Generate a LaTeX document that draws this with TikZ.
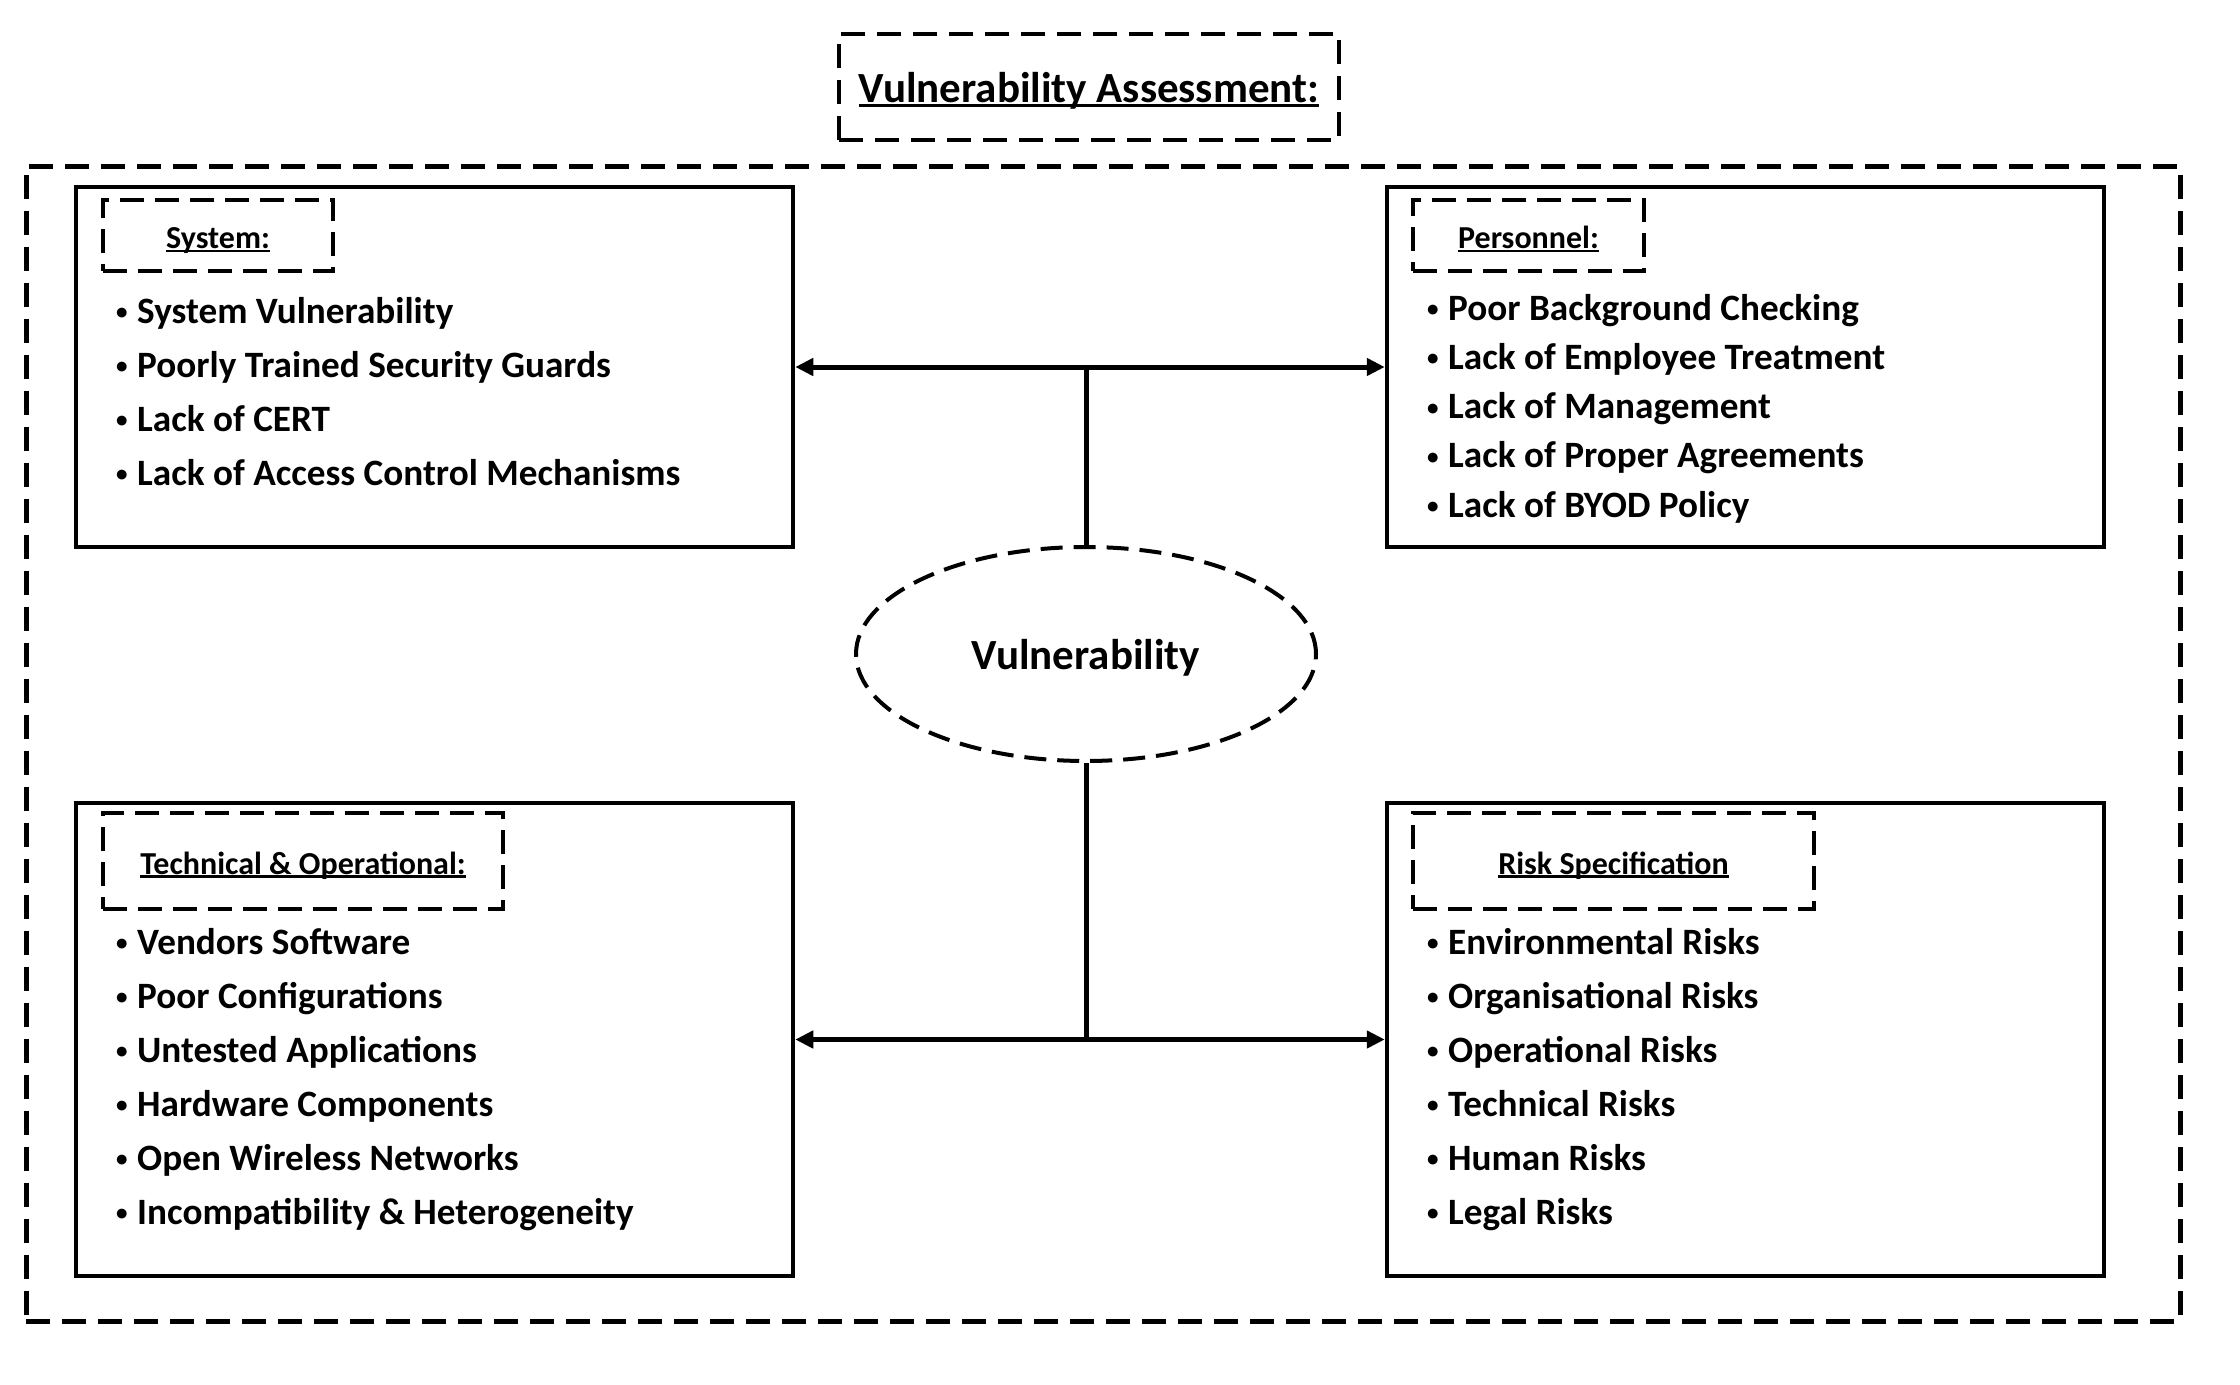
\documentclass[tikz,border=0pt]{standalone}
\usepackage{fontspec}
\setmainfont{Carlito}
\usetikzlibrary{arrows.meta,shapes.geometric}
\newcommand\myul[1]{\sbox0{#1}\rlap{\rule[-0.11em]{\wd0}{0.075em}}\usebox0}
\newcommand\bl{\makebox[22pt][l]{\hspace{1pt}\raisebox{0.09em}{\scalebox{0.62}{\textbullet}}}}
\begin{document}
\begin{tikzpicture}[x=1pt,y=-1pt,
  solidbox/.style={draw=black, line width=4.5pt, inner sep=0pt},
  dashbox/.style={draw=black, line width=5pt, dash pattern=on 24pt off 12pt, inner sep=0pt},
  subbox/.style={draw=black, line width=4.5pt, dash pattern=on 24pt off 11pt, inner sep=0pt, text height=26pt, text depth=0pt, font=\fontsize{32}{38}\selectfont\bfseries},
  item/.style={anchor=base west, inner sep=0pt, font=\fontsize{37.2}{44}\selectfont\bfseries},
  conn/.style={line width=5pt},
  biarrow/.style={line width=5pt, {Triangle[length=18pt,width=17pt]}-{Triangle[length=18pt,width=17pt]}}
]
\useasboundingbox (0,0) rectangle (2240,1384);
\fill[white] (0,0) rectangle (2240,1384);

% outer dashed frame
\node[dashbox, minimum width=2154pt, minimum height=1155pt] (outer) at (1103,743.5) {};

% title
\node[dashbox, line width=4.5pt, minimum width=500pt, minimum height=106pt, font=\fontsize{43}{50}\selectfont\bfseries, text height=31pt, text depth=0pt] (title) at (1089,87) {\myul{Vulnerability Assessment:}};

% four boxes
\node[solidbox, minimum width=717pt, minimum height=360pt] (sys) at (434.5,367) {};
\node[solidbox, minimum width=717pt, minimum height=360pt] (pers) at (1745.5,367) {};
\node[solidbox, minimum width=717pt, minimum height=473pt] (tech) at (434.5,1039.5) {};
\node[solidbox, minimum width=717pt, minimum height=473pt] (risk) at (1745.5,1039.5) {};

% sub-labels
\node[subbox, minimum width=230pt, minimum height=71pt] (sysl) at (218,235.5) {\myul{System:}};
\node[subbox, minimum width=231pt, minimum height=71pt] (persl) at (1528.5,235.5) {\myul{Personnel:}};
\node[subbox, minimum width=400pt, minimum height=96pt] (techl) at (303,861) {\myul{Technical \& Operational:}};
\node[subbox, minimum width=401pt, minimum height=96pt] (riskl) at (1613.5,861) {\myul{Risk Specification}};

% items
\foreach \t [count=\i] in {System Vulnerability, Poorly Trained Security Guards, Lack of CERT, Lack of Access Control Mechanisms}
  \node[item] (sysi\i) at (115,{323+(\i-1)*54}) {\bl\t};
\foreach \t [count=\i] in {Poor Background Checking, Lack of Employee Treatment, Lack of Management, Lack of Proper Agreements, Lack of BYOD Policy}
  \node[item] (persi\i) at (1426,{320+(\i-1)*49.3}) {\bl\t};
\foreach \t [count=\i] in {Vendors Software, Poor Configurations, Untested Applications, Hardware Components, Open Wireless Networks, Incompatibility \& Heterogeneity}
  \node[item] (techi\i) at (115,{954+(\i-1)*54}) {\bl\t};
\foreach \t [count=\i] in {Environmental Risks, Organisational Risks, Operational Risks, Technical Risks, Human Risks, Legal Risks}
  \node[item] (riski\i) at (1426,{954+(\i-1)*54}) {\bl\t};

% central ellipse
\node[ellipse, draw=black, line width=4pt, dash pattern=on 22pt off 11pt, minimum width=460pt, minimum height=214pt, inner sep=0pt, text height=30pt, text depth=0pt, font=\fontsize{43}{50}\selectfont\bfseries] (ell) at (1086,654) {Vulnerability};

% connectors
\coordinate (jt) at (ell.north |- sys.east);
\coordinate (jb) at (ell.south |- tech.east);
\draw[biarrow] (sys.east) -- (pers.west);
\draw[conn] (jt) -- (ell.north);
\draw[biarrow] (tech.east) -- (risk.west);
\draw[conn] (ell.south) -- (jb);
\end{tikzpicture}
\end{document}
